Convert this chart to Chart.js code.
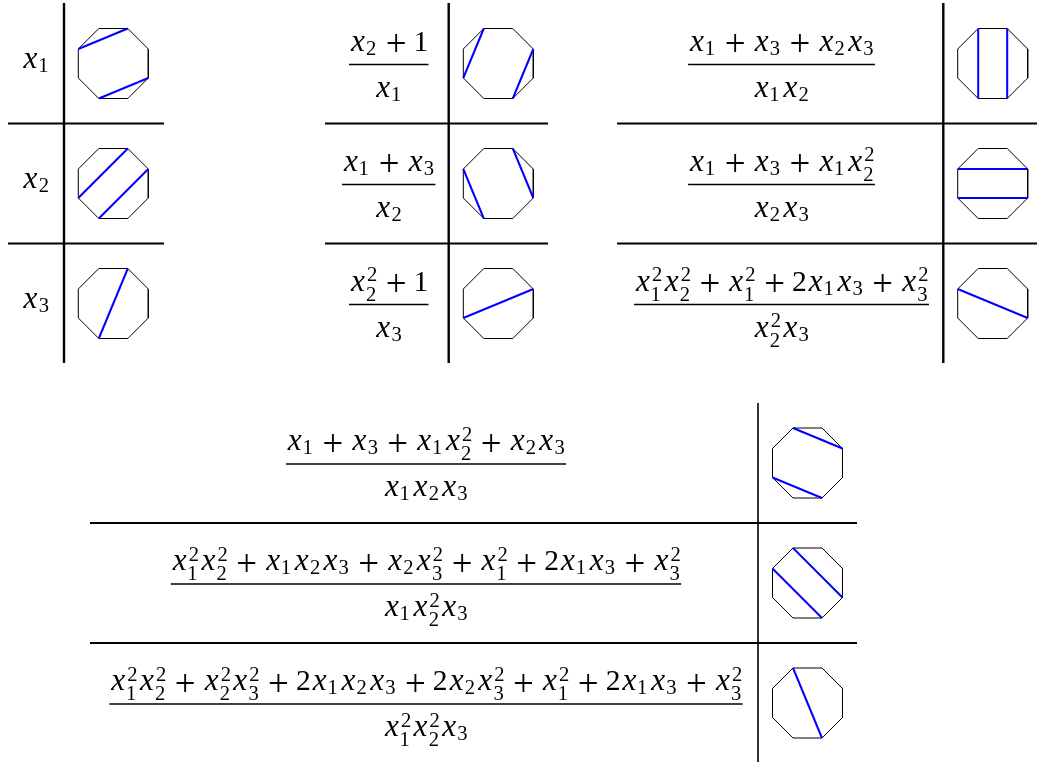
<!DOCTYPE html>
<html>
<head>
<meta charset="utf-8">
<title>Cluster variables of type C3</title>
<script src="https://cdn.jsdelivr.net/npm/chart.js@4.4.1/dist/chart.umd.min.js"></script>
<style>
  html, body { margin: 0; padding: 0; background: #fff; }
  canvas { display: block; }
</style>
</head>
<body>
<canvas id="chart" width="1037" height="762"></canvas>
<script>
// Cluster variables (as fractions) and their octagon diagonals
const leftLabels = ['x_1', 'x_2', 'x_3'];
const midNumerators = ['x_2+1', 'x_1+x_3', 'x_2^2+1'];
const midDenominators = ['x_1', 'x_2', 'x_3'];
const rightNumerators = ['x_1+x_3+x_2x_3', 'x_1+x_3+x_1x_2^2', 'x_1^2x_2^2+x_1^2+2x_1x_3+x_3^2'];
const rightDenominators = ['x_1x_2', 'x_2x_3', 'x_2^2x_3'];
const bottomNumerators = [
  'x_1+x_3+x_1x_2^2+x_2x_3',
  'x_1^2x_2^2+x_1x_2x_3+x_2x_3^2+x_1^2+2x_1x_3+x_3^2',
  'x_1^2x_2^2+x_2^2x_3^2+2x_1x_2x_3+2x_2x_3^2+x_1^2+2x_1x_3+x_3^2'
];
const bottomDenominators = ['x_1x_2x_3', 'x_1x_2^2x_3', 'x_1^2x_2^2x_3'];

// octagon vertices are numbered clockwise, 0 = left end of the top edge
const leftChords = [[[7, 1], [3, 5]], [[1, 6], [2, 5]], [[1, 5]]];
const midChords = [[[0, 6], [2, 4]], [[7, 5], [1, 3]], [[6, 2]]];
const rightChords = [[[0, 5], [1, 4]], [[7, 2], [6, 3]], [[7, 3]]];
const bottomChords = [[[0, 2], [6, 4]], [[0, 3], [7, 4]], [[0, 4]]];

// layout
const E = 29.5;           // math font size
const OCT_R = 35;         // octagon inradius
const topRows = [63.5, 183.5, 303.5];
const bottomRows = [463, 583, 703];

const tables = [
  { rows: topRows, ruleX: 64, left: 8, right: 164, top: 3, bottom: 363, vWidth: 2.4,
    textX: 36, octX: 113.3, labels: leftLabels, chords: leftChords },
  { rows: topRows, ruleX: 448.7, left: 325, right: 548, top: 3, bottom: 363, vWidth: 2.4,
    textX: 388.7, octX: 498.3, nums: midNumerators, dens: midDenominators, chords: midChords },
  { rows: topRows, ruleX: 943.3, left: 617, right: 1037, top: 3, bottom: 363, vWidth: 2.4,
    textX: 781.5, octX: 992.7, nums: rightNumerators, dens: rightDenominators, chords: rightChords },
  { rows: bottomRows, ruleX: 758, left: 90, right: 857, top: 403, bottom: 762, vWidth: 1.6,
    textX: 426, octX: 807.5, nums: bottomNumerators, dens: bottomDenominators, chords: bottomChords }
];

function vertex(cx, cy, k) {
  const R = OCT_R / Math.cos(Math.PI / 8);
  const a = (-112.5 + 45 * k) * Math.PI / 180;
  return { x: cx + R * Math.cos(a), y: cy + R * Math.sin(a) };
}

// datasets: chords first so they are painted on top of the octagon edges
const chordSets = [];
const octagonSets = [];
tables.forEach(t => {
  t.rows.forEach((cy, r) => {
    const pts = [];
    for (let k = 0; k <= 8; k++) pts.push(vertex(t.octX, cy, k % 8));
    octagonSets.push({
      data: pts, showLine: true, borderColor: '#000', borderWidth: 1,
      pointRadius: 0, fill: false, tension: 0, order: 1
    });
    t.chords[r].forEach(([a, b]) => {
      chordSets.push({
        data: [vertex(t.octX, cy, a), vertex(t.octX, cy, b)], showLine: true,
        borderColor: '#0000ff', borderWidth: 2, pointRadius: 0, fill: false, order: 0
      });
    });
  });
});

// tiny TeX-like layout for sums of monomials
function fontOf(style, size) {
  return (style === 'it' ? 'italic ' : '') + size.toFixed(1) + 'px "Liberation Serif", "Times New Roman", serif';
}

function layoutMath(src) {
  const items = [];
  let pos = 0, i = 0;
  while (i < src.length) {
    const c = src[i];
    if (c === 'x') {
      items.push({ t: 'x', style: 'it', size: E * 1.06, x: pos, w: 0.572 * E, dy: 0 });
      pos += 0.572 * E;
      i++;
      let sub = null, sup = null;
      while (src[i] === '_' || src[i] === '^') {
        if (src[i] === '_') sub = src[i + 1]; else sup = src[i + 1];
        i += 2;
      }
      if (sub) items.push({ t: sub, style: 'rm', size: 0.7 * E, x: pos, w: 0.35 * E, dy: sup ? 0.34 * E : 0.15 * E });
      if (sup) items.push({ t: sup, style: 'rm', size: 0.7 * E, x: pos + 0.03 * E, w: 0.35 * E, dy: -0.31 * E });
      if (sub || sup) pos += 0.4 * E;
    } else if (c >= '0' && c <= '9') {
      items.push({ t: c, style: 'rm', size: E, x: pos, w: 0.5 * E, dy: 0 });
      pos += 0.5 * E;
      i++;
    } else if (c === '+') {
      pos += 0.222 * E;
      items.push({ t: '+', style: 'rm', size: E * 1.25, x: pos, w: 0.778 * E, axis: true });
      pos += 1.0 * E;
      i++;
    } else {
      i++;
    }
  }
  return { items, width: pos };
}

function drawMath(ctx, src, cx, baseline) {
  const box = layoutMath(src);
  const x0 = cx - box.width / 2;
  box.items.forEach(p => {
    ctx.font = fontOf(p.style, p.size);
    const m = ctx.measureText(p.t);
    const ink = m.actualBoundingBoxLeft + m.actualBoundingBoxRight;
    const gx = x0 + p.x + (p.w - ink) / 2 + m.actualBoundingBoxLeft;
    let gy = baseline + (p.dy || 0);
    if (p.axis) gy = baseline - 0.25 * E + (m.actualBoundingBoxAscent - m.actualBoundingBoxDescent) / 2;
    ctx.fillText(p.t, gx, gy);
  });
}

function drawFraction(ctx, num, den, cx, barY) {
  const w = Math.max(layoutMath(num).width, layoutMath(den).width);
  drawMath(ctx, num, cx, barY - 14);
  drawMath(ctx, den, cx, barY + 32);
  ctx.beginPath();
  ctx.lineWidth = 1.6;
  ctx.moveTo(cx - w / 2, barY);
  ctx.lineTo(cx + w / 2, barY);
  ctx.stroke();
}

const tablePlugin = {
  id: 'tables',
  beforeDatasetsDraw(chart) {
    const ctx = chart.ctx;
    const px = v => chart.scales.x.getPixelForValue(v);
    const py = v => chart.scales.y.getPixelForValue(v);
    ctx.save();
    ctx.strokeStyle = '#000';
    tables.forEach(t => {
      ctx.lineWidth = t.vWidth;
      ctx.beginPath();
      ctx.moveTo(px(t.ruleX), py(t.top));
      ctx.lineTo(px(t.ruleX), py(t.bottom));
      ctx.stroke();
      ctx.lineWidth = 2;
      for (let r = 0; r < t.rows.length - 1; r++) {
        const y = (t.rows[r] + t.rows[r + 1]) / 2;
        ctx.beginPath();
        ctx.moveTo(px(t.left), py(y));
        ctx.lineTo(px(t.right), py(y));
        ctx.stroke();
      }
    });
    ctx.restore();
  },
  afterDatasetsDraw(chart) {
    const ctx = chart.ctx;
    const px = v => chart.scales.x.getPixelForValue(v);
    const py = v => chart.scales.y.getPixelForValue(v);
    ctx.save();
    ctx.fillStyle = '#000';
    ctx.strokeStyle = '#000';
    ctx.textBaseline = 'alphabetic';
    ctx.textAlign = 'left';
    tables.forEach(t => {
      t.rows.forEach((cy, r) => {
        if (t.labels) {
          drawMath(ctx, t.labels[r], px(t.textX), py(cy + 4.5));
        } else {
          drawFraction(ctx, t.nums[r], t.dens[r], px(t.textX), py(cy + 1));
        }
      });
    });
    ctx.restore();
  }
};

new Chart(document.getElementById('chart').getContext('2d'), {
  type: 'scatter',
  data: { datasets: chordSets.concat(octagonSets) },
  options: {
    responsive: false,
    animation: false,
    events: [],
    layout: { padding: 0 },
    plugins: {
      legend: { display: false },
      tooltip: { enabled: false }
    },
    scales: {
      x: { type: 'linear', min: 0, max: 1037, display: false },
      y: { type: 'linear', min: 0, max: 762, reverse: true, display: false }
    }
  },
  plugins: [tablePlugin]
});
</script>
</body>
</html>
